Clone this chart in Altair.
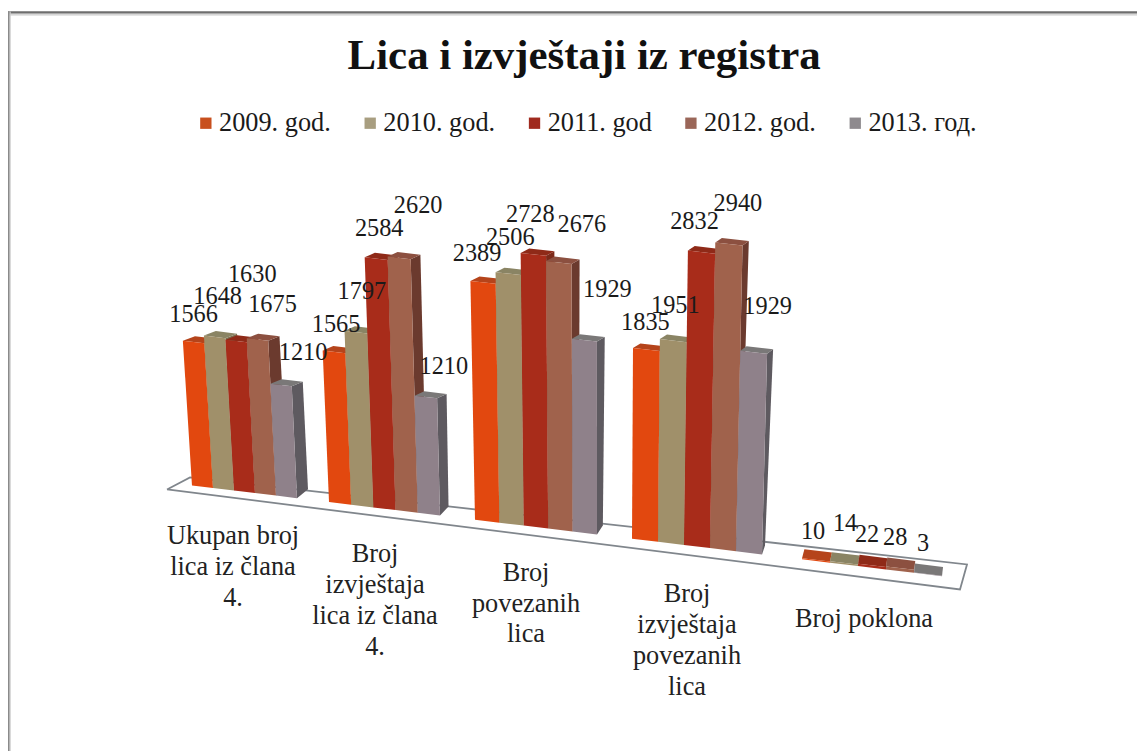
import altair as alt
import pandas as pd

TITLE = "Lica i izvještaji iz registra"
series = ["2009. god.", "2010. god.", "2011. god", "2012. god.", "2013. год."]
categories = [
    ["Ukupan broj", "lica iz člana", "4."],
    ["Broj", "izvještaja", "lica iz člana", "4."],
    ["Broj", "povezanih", "lica"],
    ["Broj", "izvještaja", "povezanih", "lica"],
    ["Broj poklona"],
]
v2009 = [1566, 1565, 2389, 1835, 10]
v2010 = [1648, 1797, 2506, 1951, 14]
v2011 = [1630, 2584, 2728, 2832, 22]
v2012 = [1675, 2620, 2676, 2940, 28]
v2013 = [1210, 1210, 1929, 1929, 3]
values = [v2009, v2010, v2011, v2012, v2013]

# Perspective layout of the 3-D scene
group_left = [192, 329, 475, 632, 802]
bar_width = [21, 22.2, 24.4, 26, 28]
group_scale = [0.0925, 0.0968, 0.1, 0.104, 0.107]

front = ["#E2480F", "#A0906A", "#A82C1A", "#A0624C", "#8F818A"]
side = ["#A8400F", "#7A6E50", "#7C2A1A", "#6B3A2E", "#5E5A60"]
top = ["#B5441B", "#8A8464", "#8F2A18", "#8C5040", "#7A7878"]
swatch = ["#C8501E", "#A89E80", "#A02A1E", "#9A6658", "#8E8A8E"]

# Nudges of the value labels from the top of their bar
label_dx = [[0, 3, 16, 15, 22], [2, 6, 3, 19, 18], [-6, 2, -3, 23, 23], [-1, 2, -7, 9, 14], [-3, 1, -5, -5, -5]]
label_dy = [[-27, -40, -66, -34, -32], [-27, -40, -30, -52, -30], [-28, -36, -39, -37, -50], [-26, -35, -30, -40, -45], [-28, -39, -30, -30, -30]]

cat_center = [233, 375, 526, 687, 864]
cat_first_y = [534, 552, 571, 592, 617]
cat_step = [31, 31, 30.5, 31, 0]

floor = [(167, 487), (190, 475), (967, 562), (960, 587), (167, 487)]


def base(x):
    return 483 + 0.121 * (x - 192)


def lean(x):
    return 0.063 - (x - 192) * 0.000155


def project(g, x, v, t):
    h = group_scale[g] * v
    f = min(h / 100, 1)
    dxb = max(11 - (x - 297) * 0.0172, 1)
    dxt = max(11 - (x - 297) * 0.0107, 1)
    bx = dxb + (dxt - dxb) * f
    by = -9 + 4.5 * f
    return x - lean(x) * h + bx * t, base(x) - h + by * t


rows, labels = [], []
for g in range(5):
    w = bar_width[g]
    for s in range(5):
        x0 = group_left[g] + s * w
        x1 = x0 + w
        v = values[s][g]
        faces = {
            "side": [(x1, 0, 0), (x1, 0, 1), (x1, v, 1), (x1, v, 0)],
            "top": [(x0, v, 0), (x1, v, 0), (x1, v, 1), (x0, v, 1)],
            "front": [(x0, 0, 0), (x1, 0, 0), (x1, v, 0), (x0, v, 0)],
        }
        for name, pts in faces.items():
            for k, (px, pv, pt) in enumerate(pts):
                X, Y = project(g, px, pv, pt)
                rows.append({"face": f"{g}-{s}-{name}", "key": f"{s}-{name}", "k": k, "x": X, "y": Y, "series": series[s]})
        cx, cy = project(g, x0 + w / 2, v, 0)
        labels.append({"x": cx + label_dx[g][s], "y": cy + label_dy[g][s], "text": str(v)})

faces_df = pd.DataFrame(rows)
labels_df = pd.DataFrame(labels)
floor_df = pd.DataFrame([{"x": p[0], "y": p[1], "k": i} for i, p in enumerate(floor)])
cat_df = pd.DataFrame([
    {"x": cat_center[g], "y": cat_first_y[g] + i * cat_step[g], "text": line}
    for g, lines in enumerate(categories) for i, line in enumerate(lines)
])

# The page fits the drawing into 1129px, so the canvas is slightly oversized and
# the scales are set so that the domain reads in final picture pixels.
W, H = 1137, 748
VISIBLE_W, VISIBLE_H = 1129, 743
X = alt.X("x:Q", axis=None, scale=alt.Scale(domain=[8, 8 + VISIBLE_W], range=[0, W]))
Y = alt.Y("y:Q", axis=None, scale=alt.Scale(domain=[8, 8 + VISIBLE_H], range=[0, H]))

face_domain = [f"{s}-{n}" for s in range(5) for n in ("side", "top", "front")]
face_range = [c for s in range(5) for c in (side[s], top[s], front[s])]

floor_layer = alt.Chart(floor_df).mark_line(fill="white", stroke="#80868C", strokeWidth=1.8).encode(x=X, y=Y, order="k:O")

bars = alt.Chart(faces_df).mark_line(strokeWidth=0).encode(
    x=X, y=Y, order="k:O", detail="face:N",
    fill=alt.Fill("key:N", scale=alt.Scale(domain=face_domain, range=face_range), legend=None),
)

legend_layer = alt.Chart(faces_df[faces_df.k == 0]).mark_point(filled=True, shape="square", size=0, opacity=1).encode(
    x=X, y=Y,
    color=alt.Color("series:N", sort=series, scale=alt.Scale(domain=series, range=swatch),
                    legend=alt.Legend(title=None, orient="none", legendX=186, legendY=100, direction="horizontal",
                                      columns=5, symbolType="square", symbolSize=130, symbolStrokeWidth=0,
                                      labelFont="Liberation Serif", labelFontSize=26.5, labelColor="#1a1a1a",
                                      labelLimit=200, columnPadding=25.5, labelOffset=0)),
)

value_text = alt.Chart(labels_df).mark_text(font="Liberation Serif", fontSize=24.5, color="#1a1a1a").encode(x=X, y=Y, text="text:N")
cat_text = alt.Chart(cat_df).mark_text(font="Liberation Serif", fontSize=26.5, color="#222222").encode(x=X, y=Y, text="text:N")

blank = alt.Data(values=[{}])
borders = [
    alt.Chart(blank).mark_rule(color=c, strokeWidth=sw).encode(x=alt.value(0), x2=alt.value(W), y=alt.value(yy))
    for c, sw, yy in [("#DDDDDD", 1.5, 4.5), ("#AAAAAA", 1.5, 3), ("#6E6E6E", 2, 1.5)]
] + [
    alt.Chart(blank).mark_rule(color=c, strokeWidth=sw).encode(x=alt.value(xx), y=alt.value(1), y2=alt.value(H))
    for c, sw, xx in [("#CCCCCC", 1.5, 2), ("#8A8A8A", 1.5, 0.7)]
]

chart = alt.layer(*borders, floor_layer, bars, legend_layer, value_text, cat_text).properties(
    width=W, height=H, padding=0, autosize=alt.AutoSizeParams(type="none"),
    title=alt.TitleParams(TITLE, font="Liberation Serif", fontSize=43.2, fontWeight="bold", color="#111111",
                          anchor="start", frame="group", dx=342, dy=72),
    background="white",
).configure_view(stroke=None)

chart.save("out.html", embed_options={"renderer": "svg", "actions": False})
